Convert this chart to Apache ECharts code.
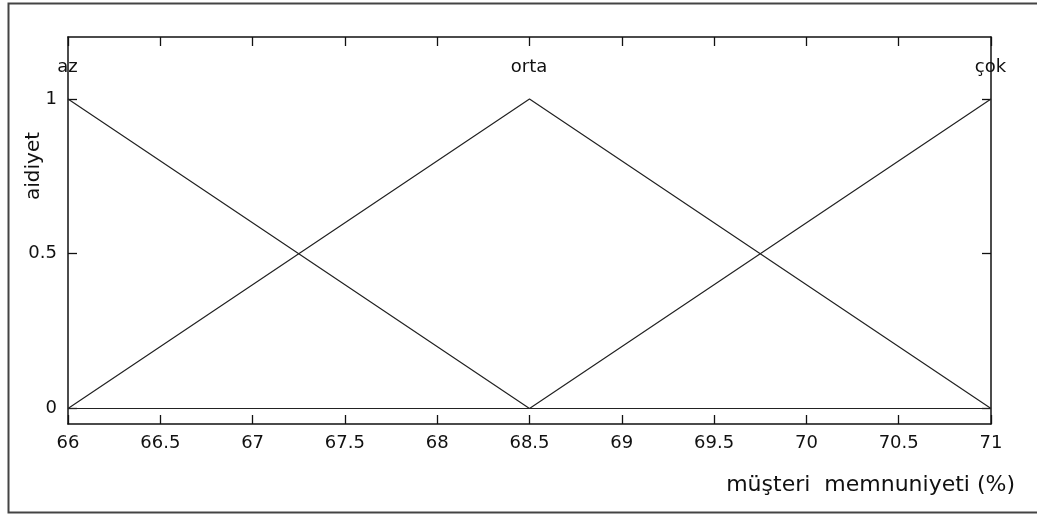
<!DOCTYPE html>
<html>
<head>
<meta charset="utf-8">
<script src="https://cdn.jsdelivr.net/npm/echarts@6/dist/echarts.min.js"></script>
<style>
  html, body { margin: 0; padding: 0; background: #fff; }
  #chart { width: 1037px; height: 515px; }
</style>
</head>
<body>
<div id="chart"></div>
<script>
// Membership functions for customer satisfaction (%)
const xTicks = [66, 66.5, 67, 67.5, 68, 68.5, 69, 69.5, 70, 70.5, 71];
const yTicks = [0, 0.5, 1];

const azPoints   = [[66, 1], [68.5, 0], [71, 0]];
const ortaPoints = [[66, 0], [68.5, 1], [71, 0]];
const cokPoints  = [[66, 0], [68.5, 0], [71, 1]];

// Set names and where each name sits above its peak
const setNames  = ['az', 'orta', 'çok'];
const setLabelX = [66, 68.5, 71];
const setLabelY = [1.1, 1.1, 1.1];

const xName = 'müşteri  memnuniyeti (%)';
const yName = 'aidiyet';

const FONT = 'DejaVu Sans';
const INK = '#111111';

const lineStyle = { color: '#222222', width: 1.2 };
const tickCommon = { show: true, inside: true, length: 9, lineStyle: { color: INK, width: 1.3 } };
const axisLineCommon = { show: true, onZero: false, lineStyle: { color: INK, width: 1.5 } };

const chart = echarts.init(document.getElementById('chart'), null, { renderer: 'canvas' });

chart.setOption({
  animation: false,
  backgroundColor: '#ffffff',
  grid: { left: 68, top: 37, width: 923, height: 387, show: false },
  xAxis: [
    {
      type: 'value', position: 'bottom', min: 66, max: 71, interval: 0.5,
      axisLine: axisLineCommon,
      axisTick: { ...tickCommon, customValues: xTicks },
      axisLabel: {
        customValues: xTicks, margin: 10, color: INK,
        fontFamily: FONT, fontSize: 18,
        formatter: v => String(v)
      },
      splitLine: { show: false },
      name: xName, nameLocation: 'end', nameGap: 24,
      nameTextStyle: {
        fontFamily: FONT, fontSize: 22, color: INK,
        align: 'right', verticalAlign: 'top', padding: [50, 0, 0, 0]
      }
    },
    {
      type: 'value', position: 'top', min: 66, max: 71, interval: 0.5,
      axisLine: axisLineCommon,
      axisTick: { ...tickCommon, customValues: xTicks },
      axisLabel: { show: false },
      splitLine: { show: false }
    }
  ],
  yAxis: [
    {
      type: 'value', position: 'left', min: -0.05, max: 1.2,
      axisLine: axisLineCommon,
      axisTick: { ...tickCommon, customValues: yTicks },
      axisLabel: {
        customValues: yTicks, margin: 11, color: INK,
        fontFamily: FONT, fontSize: 18,
        formatter: v => String(v)
      },
      splitLine: { show: false }
    },
    {
      type: 'value', position: 'right', min: -0.05, max: 1.2,
      axisLine: axisLineCommon,
      axisTick: { ...tickCommon, customValues: yTicks },
      axisLabel: { show: false },
      splitLine: { show: false }
    }
  ],
  series: [
    { name: 'az', type: 'line', data: azPoints, symbol: 'none', lineStyle, z: 3 },
    { name: 'orta', type: 'line', data: ortaPoints, symbol: 'none', lineStyle, z: 3 },
    { name: 'çok', type: 'line', data: cokPoints, symbol: 'none', lineStyle, z: 3 },
    {
      name: 'labels', type: 'scatter', symbolSize: 1, silent: true,
      itemStyle: { opacity: 0 },
      data: setNames.map((n, i) => ({ name: n, value: [setLabelX[i], setLabelY[i]] })),
      label: {
        show: true, position: [0, 0], align: 'center', verticalAlign: 'middle',
        formatter: p => p.name,
        fontFamily: FONT, fontSize: 18, color: INK, opacity: 1,
        textBorderWidth: 0
      },
      z: 4
    }
  ],
  graphic: [
    {
      type: 'rect', silent: true, z: -1,
      shape: { x: 8.5, y: 3.5, width: 1100, height: 509 },
      style: { fill: null, stroke: '#444', lineWidth: 2 }
    },
    {
      type: 'text', silent: true,
      x: 34, y: 166, rotation: Math.PI / 2,
      style: {
        text: yName, fontFamily: FONT, fontSize: 20, fill: INK,
        align: 'center', verticalAlign: 'middle'
      }
    }
  ]
});
</script>
</body>
</html>
